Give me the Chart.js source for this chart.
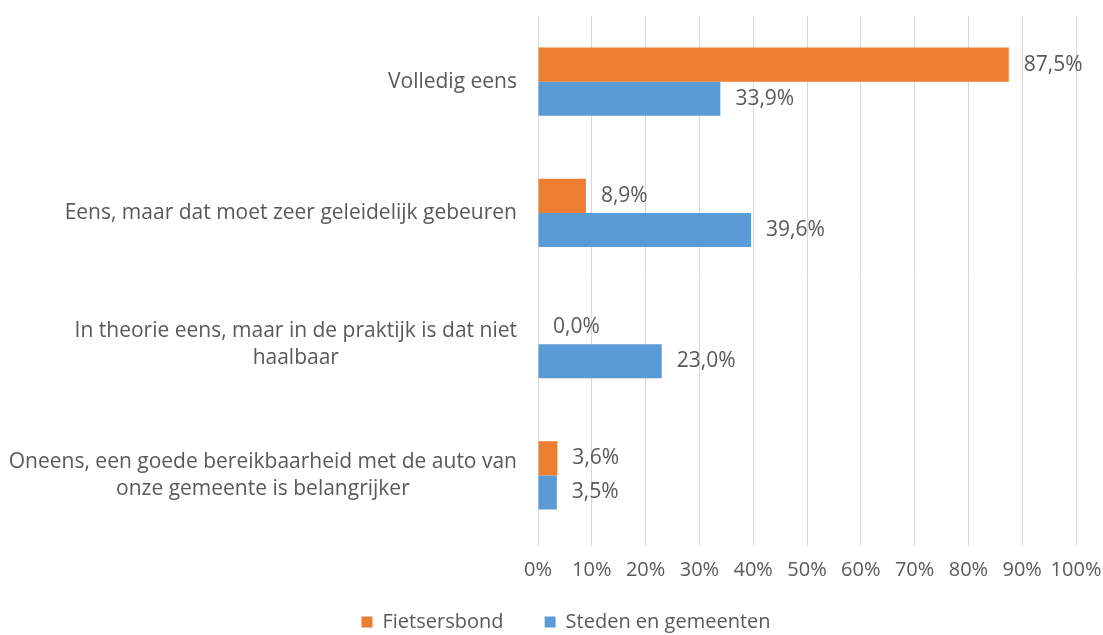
<!DOCTYPE html>
<html>
<head>
<meta charset="utf-8">
<script src="https://cdn.jsdelivr.net/npm/chart.js@4"></script>
<style>
  html, body { margin: 0; padding: 0; background: #fff; overflow: hidden; }
  #wrap { width: 1103px; height: 642px; }
</style>
</head>
<body>
<div id="wrap"><canvas id="chart"></canvas></div>
<script>
// categorieën en waarden (in %)
const categories = [
    ['Volledig eens'],
    ['Eens, maar dat moet zeer geleidelijk gebeuren'],
    ['In theorie eens, maar in de praktijk is dat niet', 'haalbaar'],
    ['Oneens, een goede bereikbaarheid met de auto van', 'onze gemeente is belangrijker']
];
const fietsersbond = [87.5, 8.9, 0.0, 3.6];
const steden = [33.9, 39.6, 23.0, 3.5];
const xTicks = [0, 10, 20, 30, 40, 50, 60, 70, 80, 90, 100];

const textColor = '#595959';
const fontFamily = '"Open Sans", "Noto Sans", sans-serif';

function fmt(v) {
    return v.toFixed(1).replace('.', ',') + '%';
}

// labels naast de balken
const valueLabels = {
    id: 'valueLabels',
    afterDatasetsDraw(chart) {
        const ctx = chart.ctx;
        ctx.save();
        ctx.font = '21px ' + fontFamily;
        ctx.fillStyle = textColor;
        ctx.textAlign = 'left';
        ctx.textBaseline = 'middle';
        chart.data.datasets.forEach((ds, i) => {
            chart.getDatasetMeta(i).data.forEach((bar, j) => {
                ctx.fillText(fmt(ds.data[j]), bar.x + 15, bar.y);
            });
        });
        ctx.restore();
    }
};

// categorielabels: blok rechts uitgelijnd, regels gecentreerd
const catLabels = {
    id: 'catLabels',
    afterDraw(chart) {
        const ctx = chart.ctx;
        const y = chart.scales.y;
        ctx.save();
        ctx.font = '21px ' + fontFamily;
        ctx.fillStyle = textColor;
        ctx.textAlign = 'center';
        ctx.textBaseline = 'middle';
        const right = y.right - 21;
        const lh = 27;
        categories.forEach((lines, i) => {
            const cy = y.getPixelForValue(i);
            const w = Math.max(...lines.map(l => ctx.measureText(l).width));
            const cx = right - w / 2;
            lines.forEach((l, k) => {
                ctx.fillText(l, cx, cy + (k - (lines.length - 1) / 2) * lh);
            });
        });
        ctx.restore();
    }
};

new Chart(document.getElementById('chart'), {
    type: 'bar',
    data: {
        labels: categories,
        datasets: [
            {
                label: 'Fietsersbond',
                data: fietsersbond,
                backgroundColor: '#ED7D31',
                categoryPercentage: 0.52,
                barPercentage: 1
            },
            {
                label: 'Steden en gemeenten',
                data: steden,
                backgroundColor: '#5B9BD5',
                categoryPercentage: 0.52,
                barPercentage: 1
            }
        ]
    },
    options: {
        indexAxis: 'y',
        responsive: true,
        maintainAspectRatio: false,
        animation: false,
        layout: { padding: { top: 16, right: 0, left: 29, bottom: 0 } },
        plugins: {
            tooltip: { enabled: false },
            legend: {
                position: 'bottom',
                labels: {
                    color: textColor,
                    font: { family: fontFamily, size: 20 },
                    boxWidth: 11,
                    boxHeight: 11,
                    padding: 10,
                    generateLabels(chart) {
                        const items = Chart.defaults.plugins.legend.labels.generateLabels(chart);
                        // extra ruimte tussen de legenda-items
                        items.forEach((it, i) => {
                            if (i < items.length - 1) it.text += '      ';
                        });
                        return items;
                    }
                }
            }
        },
        scales: {
            x: {
                min: 0,
                max: 100,
                afterBuildTicks(scale) {
                    scale.ticks = xTicks.map(v => ({ value: v }));
                },
                afterFit(scale) {
                    scale.height = 61;
                    scale.paddingLeft = 0;
                    scale.paddingRight = 27;
                },
                grid: { color: '#D9D9D9', drawTicks: true, tickLength: 5 },
                border: { display: false },
                ticks: {
                    color: textColor,
                    font: { family: fontFamily, size: 20 },
                    padding: 12,
                    maxRotation: 0,
                    minRotation: 0,
                    autoSkip: false,
                    callback: v => v + '%'
                }
            },
            y: {
                afterFit(scale) { scale.width = 509; },
                grid: { display: false },
                border: { color: '#D9D9D9' },
                ticks: { display: false }
            }
        }
    },
    plugins: [valueLabels, catLabels]
});
</script>
</body>
</html>
